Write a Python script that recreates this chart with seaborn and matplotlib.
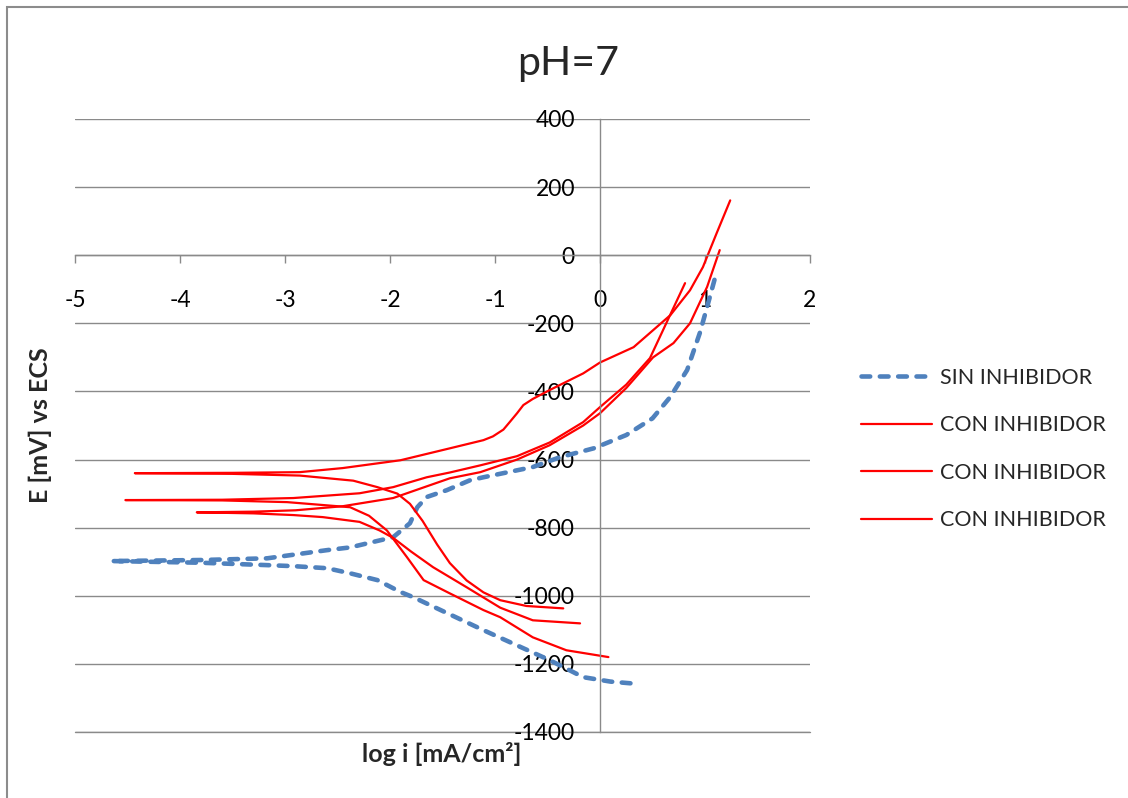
import matplotlib
matplotlib.use('Agg')
import matplotlib.pyplot as plt
import seaborn as sns
from matplotlib.patches import Rectangle

# ---- data (log i [mA/cm2], E [mV vs ECS]) ----
sin_x = [0.29, 0.1, -0.16, -0.48, -1.11, -1.78, -1.9, -2.12, -2.38, -2.6, -2.92, -3.17, -3.8, -4.65,
         -3.8, -3.17, -2.6, -2.38, -1.97, -1.81, -1.74, -1.65, -1.46, -1.24, -1.11, -0.64, -0.38,
         -0.06, 0.25, 0.5, 0.67, 0.83, 0.95, 1.02, 1.11]
sin_E = [-1257, -1252, -1239, -1189, -1101, -1004, -989, -954, -934, -919, -913, -910, -903, -898,
         -895, -890, -866, -858, -828, -787, -740, -710, -690, -661, -652, -622, -593,
         -567, -528, -479, -416, -337, -229, -152, -50]

con1_x = [-0.35, -0.7, -0.95, -1.11, -1.27, -1.43, -1.55, -1.69, -1.81, -1.93, -2.12, -2.35, -2.86,
          -3.5, -4.43, -3.5, -2.86, -2.45, -1.9, -1.43, -1.11, -1.02, -0.92, -0.86, -0.79, -0.73,
          -0.64, -0.48, -0.16, 0.0, 0.32, 0.67, 0.857, 0.98, 1.11, 1.24]
con1_E = [-1037, -1030, -1013, -990, -955, -904, -850, -780, -730, -700, -681, -662, -647,
          -642, -640, -639, -637, -625, -602, -567, -543, -532, -512, -490, -464, -440,
          -422, -396, -347, -315, -270, -176, -103, -35, 64, 161]

con2_x = [0.08, -0.32, -0.64, -0.95, -1.11, -1.43, -1.68, -1.84, -2.03, -2.2, -2.38, -2.98, -3.6,
          -4.52, -3.6, -2.92, -2.29, -1.97, -1.65, -1.43, -1.14, -0.79, -0.48, -0.16, 0.0,
          0.25, 0.476, 0.667, 0.81]
con2_E = [-1180, -1160, -1122, -1063, -1042, -993, -954, -886, -808, -765, -740, -725, -720,
          -719, -718, -713, -699, -681, -652, -638, -617, -590, -550, -490, -446,
          -380, -302, -176, -82]

con3_x = [-0.19, -0.64, -0.95, -1.27, -1.59, -1.8, -1.97, -2.1, -2.29, -2.64, -2.92, -3.3, -3.84,
          -3.3, -2.9, -2.45, -1.97, -1.43, -1.14, -0.79, -0.48, -0.16, 0.0, 0.25, 0.505,
          0.7, 0.857, 1.02, 1.14]
con3_E = [-1081, -1072, -1035, -975, -916, -870, -830, -808, -783, -769, -763, -758, -755,
          -753, -749, -737, -713, -655, -637, -600, -558, -500, -464, -390, -300,
          -258, -200, -93, 15]

x_ticks = [-5, -4, -3, -2, -1, 0, 1, 2]
y_ticks = [-1400, -1200, -1000, -800, -600, -400, -200, 0, 200, 400]
labels = ['SIN INHIBIDOR', 'CON INHIBIDOR', 'CON INHIBIDOR', 'CON INHIBIDOR']

sns.set_theme(style='white')
plt.rcParams['font.family'] = ['Lato', 'DejaVu Sans']

W, H = 1128, 798
fig = plt.figure(figsize=(W / 100, H / 100), dpi=100)
fig.patch.set_facecolor('white')
fig.add_artist(Rectangle((7 / W, -0.02), 1.05, 1 - 7 / H + 0.02, transform=fig.transFigure,
                         fill=False, edgecolor='#8c8c8c', lw=1.5))

ax = fig.add_axes([75 / W, 1 - 732 / H, 735 / W, 613 / H])
ax.set_facecolor('none')

gray = '#8a8a8a'
blue = '#4F81BD'
red = '#FF0000'

sns.lineplot(x=sin_x, y=sin_E, sort=False, estimator=None, ax=ax, color=blue, lw=3.3,
             linestyle=(0, (1.9, 2.1)), dash_capstyle='round', label=labels[0])
for xs, es, lab in [(con1_x, con1_E, labels[1]), (con2_x, con2_E, labels[2]), (con3_x, con3_E, labels[3])]:
    sns.lineplot(x=xs, y=es, sort=False, estimator=None, ax=ax, color=red, lw=1.6, label=lab)

ax.set_xlim(-5, 2)
ax.set_ylim(-1400, 400)
ax.set_xticks(x_ticks)
ax.set_yticks(y_ticks)
ax.set_xticklabels([str(v) for v in x_ticks])
ax.set_yticklabels([str(v) for v in y_ticks])
ax.set_xlabel('')
ax.set_ylabel('')

ax.yaxis.grid(True, color=gray, lw=1)
ax.xaxis.grid(False)
ax.set_axisbelow(True)
ax.axhline(y_ticks[0], color=gray, lw=1, clip_on=False, zorder=0.5)
for s in ['top', 'right']:
    ax.spines[s].set_visible(False)
ax.spines['left'].set_position(('data', 0))
ax.spines['bottom'].set_position(('data', 0))
for s in ['left', 'bottom']:
    ax.spines[s].set_color(gray)
    ax.spines[s].set_linewidth(1)
ax.tick_params(axis='x', direction='out', length=6, width=1, color=gray, pad=19, labelsize=16.5,
               bottom=True, labelcolor='black')
ax.tick_params(axis='y', direction='out', length=0, pad=18, labelsize=16.5, left=True,
               labelcolor='black')

fig.text(568 / W, 1 - 63 / H, 'pH=7', ha='center', va='center', fontsize=29.5)
fig.text(40 / W, 1 - 425 / H, 'E [mV] vs ECS', rotation=90, ha='center', va='center',
         fontsize=18, fontweight='bold')
fig.text(442 / W, 1 - 754 / H, 'log i [mA/cm²]', ha='center', va='center',
         fontsize=18, fontweight='bold')

leg = ax.legend(loc='upper left', bbox_to_anchor=(852 / W, 1 - 359 / H), bbox_transform=fig.transFigure,
                frameon=False, fontsize=15.5, labelspacing=1.28, handlelength=3.3, handletextpad=0.4,
                borderaxespad=0)

fig.savefig('out.png', dpi=100, facecolor='white')
